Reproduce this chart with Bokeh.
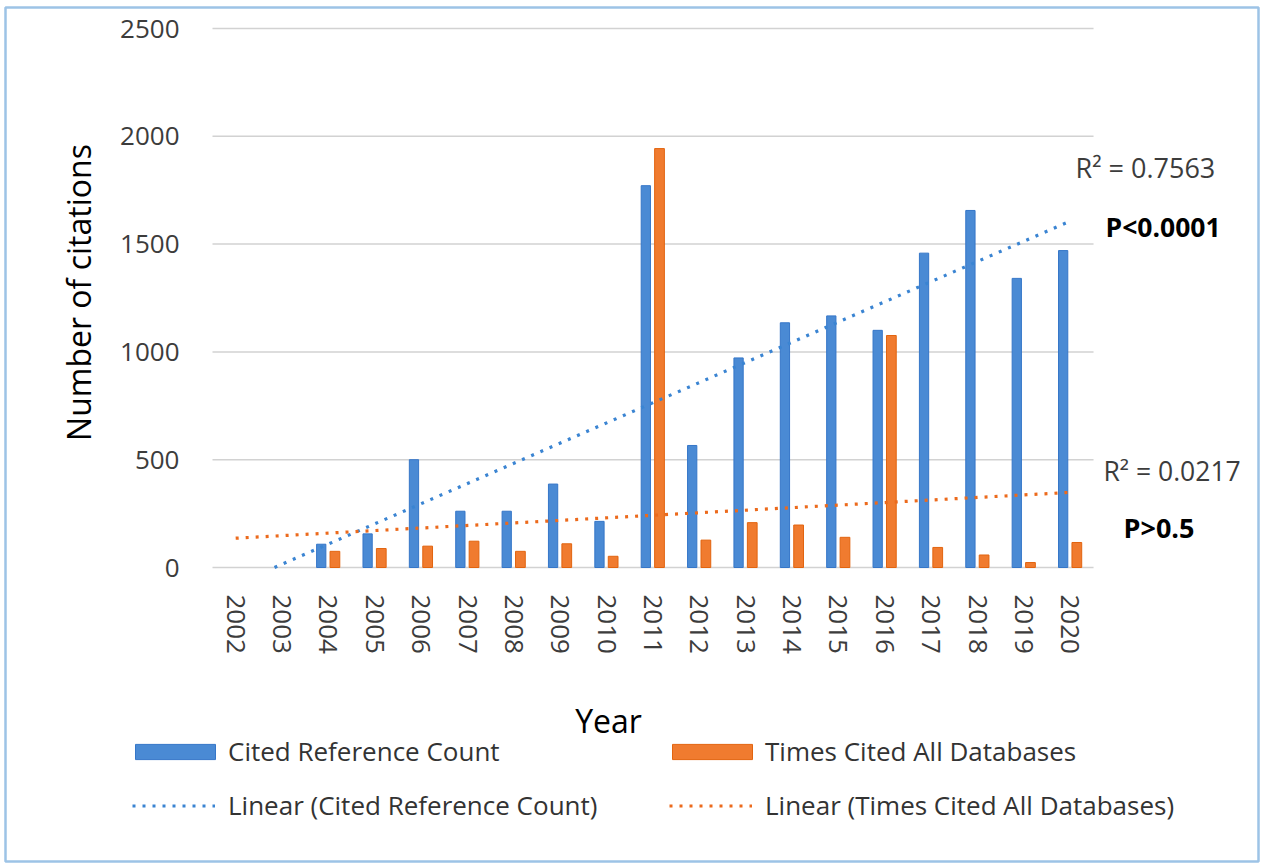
import numpy as np
from bokeh.plotting import figure
from bokeh.models import (Range1d, FixedTicker, Label, Legend, LegendItem,
                          BasicTickFormatter)
from bokeh.embed import file_html
from bokeh.resources import INLINE

# ---- data ----
years = [2002, 2003, 2004, 2005, 2006, 2007, 2008, 2009, 2010, 2011,
         2012, 2013, 2014, 2015, 2016, 2017, 2018, 2019, 2020]
cited_reference_count = [0, 0, 108, 156, 500, 261, 261, 387, 214, 1771,
                         566, 972, 1135, 1167, 1100, 1458, 1656, 1341, 1470]
times_cited_all = [0, 0, 75, 88, 99, 122, 75, 110, 52, 1943,
                   127, 208, 197, 140, 1076, 93, 58, 23, 116]
y_ticks = [0, 500, 1000, 1500, 2000, 2500]
series_names = ["Cited Reference Count", "Times Cited All Databases"]
r2_texts = ["R\u00b2 = 0.7563", "R\u00b2 = 0.0217"]
p_texts = ["P<0.0001", "P>0.5"]

FONT = "Open Sans"
BLUE = "#4a8ad4"
BLUE_LINE = "#3576c8"
ORANGE = "#f07b2f"
ORANGE_LINE = "#e2640f"
TICK_COLOR = "#3c3c3c"

# ---- canvas / coordinate mapping (page pixels -> data) ----
W, H = 1262, 864
FL, FT, FR, FB = 5, 7, 1258, 861      # frame (= outer border) in page pixels
PX_PER_YEAR = 46.37
PX_PER_UNIT = 539 / 2500.0
X_LEFT_PX, Y_ZERO_PX = 212, 567       # left edge of category area, baseline


def dx(px):
    return 2001.5 + (px - X_LEFT_PX) / PX_PER_YEAR


def dy(py):
    return (Y_ZERO_PX - py) / PX_PER_UNIT


x_start, x_end = years[0] - 0.5, years[-1] + 0.5

p = figure(width=W, height=H, output_backend="svg", toolbar_location=None,
           x_range=Range1d(dx(FL), dx(FR)),
           y_range=Range1d(dy(FB), dy(FT)),
           min_border=0, min_border_left=FL, min_border_right=W - FR,
           min_border_top=FT, min_border_bottom=H - FB)
p.outline_line_color = "#9dc3e6"
p.outline_line_width = 2.5
p.background_fill_color = "white"
p.border_fill_color = "white"

# horizontal grid lines limited to the category area
p.segment(x0=[x_start] * len(y_ticks), x1=[x_end] * len(y_ticks),
          y0=y_ticks, y1=y_ticks, line_color="#d2d2d2", line_width=1.5)

# bars (only non-zero values are drawn)
bx = [y - 0.155 for y, v in zip(years, cited_reference_count) if v > 0]
bv = [v for v in cited_reference_count if v > 0]
ox = [y + 0.14 for y, v in zip(years, times_cited_all) if v > 0]
ov = [v for v in times_cited_all if v > 0]
r_blue = p.vbar(x=bx, top=bv, width=0.2,
                fill_color=BLUE, line_color=BLUE_LINE, line_width=1)
r_orange = p.vbar(x=ox, top=ov, width=0.21,
                  fill_color=ORANGE, line_color=ORANGE_LINE, line_width=1)

# linear trend lines (least squares, clipped at 0)
xa = np.array(years, dtype=float)
cb = np.polyfit(xa, cited_reference_count, 1)
co = np.polyfit(xa, times_cited_all, 1)
xb0 = max(years[0], -cb[1] / cb[0])
xo0 = max(years[0], -co[1] / co[0]) if co[0] != 0 else years[0]
bxs = [xb0, years[-1]]
oxs = [xo0, years[-1]]
r_bfit = p.line(x=bxs, y=list(np.polyval(cb, bxs)), line_color="#3a84d2",
                line_width=3.2, line_dash="3 7")
r_ofit = p.line(x=oxs, y=list(np.polyval(co, oxs)), line_color="#ec6a1c",
                line_width=3.2, line_dash="3 7")

# axes drawn at fixed data locations
p.xaxis.fixed_location = 0
p.yaxis.fixed_location = x_start
p.xaxis.ticker = FixedTicker(ticks=years)
p.xaxis.formatter = BasicTickFormatter(use_scientific=False)
p.xaxis.major_label_orientation = "vertical"
p.xaxis.major_label_standoff = 21
p.yaxis.ticker = FixedTicker(ticks=y_ticks)
p.yaxis.major_label_standoff = 27
for ax in (p.xaxis, p.yaxis):
    ax.axis_line_color = None
    ax.major_tick_line_color = None
    ax.minor_tick_line_color = None
    ax.major_label_text_font = FONT
    ax.major_label_text_font_size = "26px"
    ax.major_label_text_color = TICK_COLOR
p.xgrid.grid_line_color = None
p.ygrid.grid_line_color = None

# axis titles
p.add_layout(Label(x=dx(78), y=dy(292), text="Number of citations", angle=np.pi / 2,
                   text_align="center", text_baseline="middle",
                   text_font=FONT, text_font_size="32px", text_color="black"))
p.add_layout(Label(x=dx(608), y=dy(720), text="Year",
                   text_align="center", text_baseline="middle",
                   text_font=FONT, text_font_size="32px", text_color="black"))

# R2 and P annotations
p.add_layout(Label(x=dx(1075), y=dy(167), text=r2_texts[0], text_align="left",
                   text_baseline="middle", text_font=FONT, text_font_size="27px",
                   text_color=TICK_COLOR))
p.add_layout(Label(x=dx(1105), y=dy(226), text=p_texts[0], text_align="left",
                   text_baseline="middle", text_font=FONT, text_font_size="26.5px",
                   text_font_style="bold", text_color="black"))
p.add_layout(Label(x=dx(1103), y=dy(470), text=r2_texts[1], text_align="left",
                   text_baseline="middle", text_font=FONT, text_font_size="26.5px",
                   text_color=TICK_COLOR))
p.add_layout(Label(x=dx(1123), y=dy(527), text=p_texts[1], text_align="left",
                   text_baseline="middle", text_font=FONT, text_font_size="27px",
                   text_font_style="bold", text_color="black"))


def make_legend(label, renderer, left_px, bottom_px, glyph_w, glyph_h, standoff):
    return Legend(items=[LegendItem(label=label, renderers=[renderer])],
                  location=(left_px - FL, FB - bottom_px),
                  orientation="vertical",
                  glyph_width=glyph_w, glyph_height=glyph_h, label_height=34,
                  label_standoff=standoff, spacing=0, padding=0, margin=0,
                  border_line_color=None, background_fill_alpha=0,
                  label_text_font=FONT, label_text_font_size="26px",
                  label_text_color="#333333")


# bar items: area legend glyphs are inset by 10%, so widen the glyph box
p.add_layout(make_legend(series_names[0], r_blue, 125, 769, 100, 19, 3), "center")
p.add_layout(make_legend(series_names[1], r_orange, 662, 769, 100, 19, 3), "center")
p.add_layout(make_legend("Linear (" + series_names[0] + ")", r_bfit, 132, 823, 83, 19, 13), "center")
p.add_layout(make_legend("Linear (" + series_names[1] + ")", r_ofit, 669, 823, 83, 19, 13), "center")

open("out.html", "w").write(file_html(p, INLINE))
